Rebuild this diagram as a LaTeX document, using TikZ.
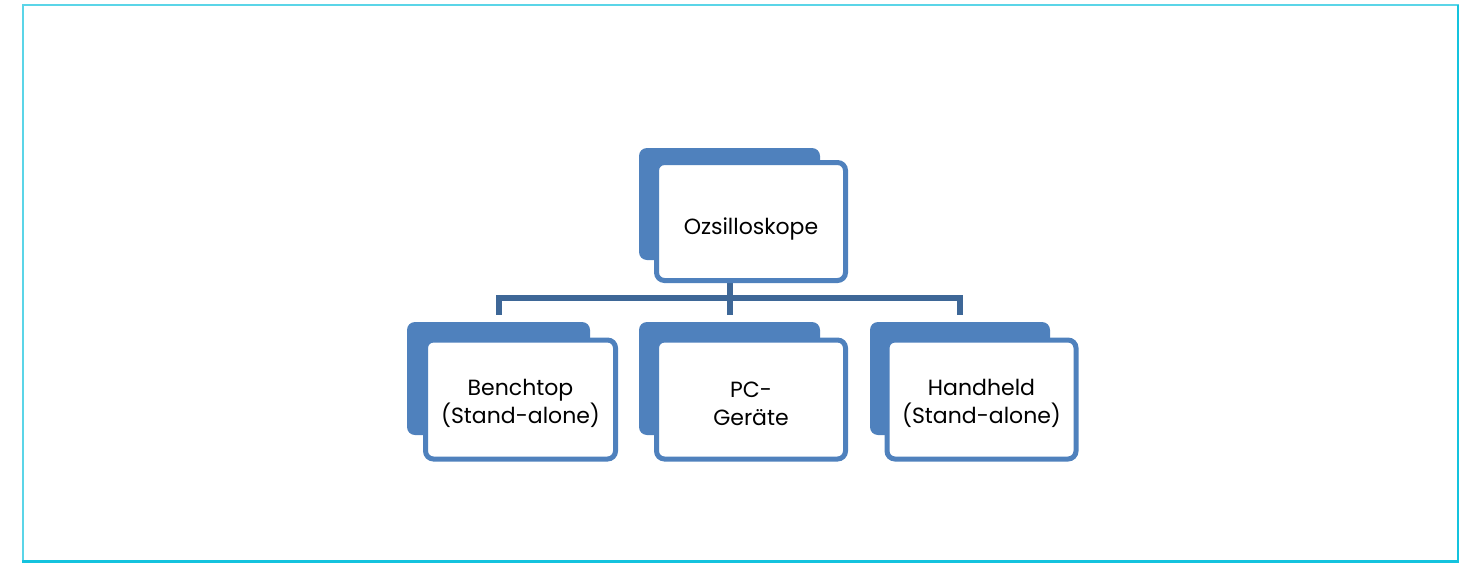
\documentclass[tikz,border=0pt]{standalone}
\usepackage{fontspec}
\setmainfont{Poppins}
\definecolor{boxblue}{RGB}{79,129,189}
\definecolor{connblue}{RGB}{62,103,151}
\definecolor{framecyan}{RGB}{20,195,222}
\begin{document}
\begin{tikzpicture}[x=1pt,y=-1pt,
  backbox/.style={rectangle,rounded corners=8pt,fill=boxblue,draw=none,inner sep=0pt},
  frontbox/.style={rectangle,rounded corners=8pt,fill=white,draw=boxblue,line width=5pt,inner sep=0pt},
  boxtext/.style={align=center,font=\fontsize{22}{28}\selectfont,text=black,inner sep=0pt},
  conn/.style={draw=connblue,line width=6pt}]
\useasboundingbox (0,0) rectangle (1465,565);
\draw[framecyan!70,line width=2pt] (23,5) rectangle (1458,561);
\draw[framecyan,line width=3pt] (22,561.5) -- (1459,561.5);
\draw[framecyan,line width=2pt] (1458,5) -- (1458,561);
% back boxes
\node[backbox,minimum width=181pt,minimum height=112pt] (tback) at (729.5,204) {};
\node[backbox,minimum width=183pt,minimum height=113pt] (bback) at (498.5,378.5) {};
\node[backbox,minimum width=181pt,minimum height=113pt] (pback) at (729.5,378.5) {};
\node[backbox,minimum width=180pt,minimum height=113pt] (hback) at (960,378.5) {};
% connectors
\coordinate (bus) at (729.5,298);
\draw[conn] (tback.south) -- (bus);
\draw[conn,shorten >=7pt] (bus) -- (pback.north);
\draw[conn,shorten <=7pt,shorten >=7pt] (bback.north) |- (bus) -| (hback.north);
% front boxes
\node[frontbox,minimum width=189pt,minimum height=118pt,
  label={[boxtext,yshift=-7pt]center:Ozsilloskope}] (top) at (751,221.5) {};
\node[frontbox,minimum width=190pt,minimum height=119pt,
  label={[boxtext,yshift=-4pt]center:Benchtop\\(Stand-alone)}] (bench) at (520.5,399.5) {};
\node[frontbox,minimum width=189pt,minimum height=119pt,
  label={[boxtext,yshift=-4pt]center:PC-\\Geräte}] (pc) at (751,399.5) {};
\node[frontbox,minimum width=189pt,minimum height=119pt,
  label={[boxtext,yshift=-4pt]center:Handheld\\(Stand-alone)}] (hand) at (981.5,399.5) {};
\end{tikzpicture}
\end{document}
